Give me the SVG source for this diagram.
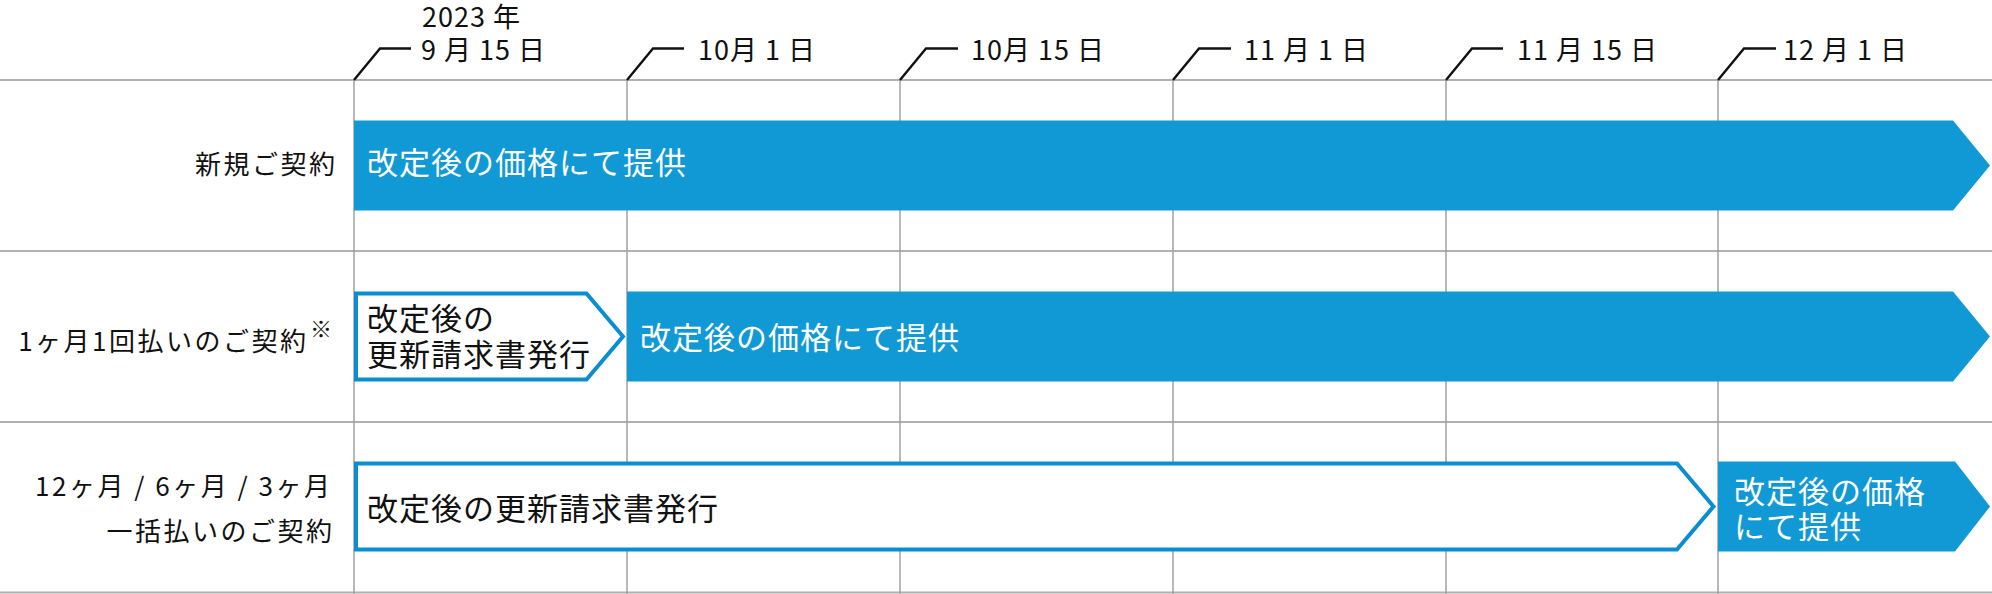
<svg xmlns="http://www.w3.org/2000/svg" width="1992" height="594" viewBox="0 0 1992 594">
<style>
text{font-family:"Noto Sans CJK JP","Noto Sans",sans-serif;}
.hl{stroke:#b0b0b0;stroke-width:2;fill:none}
.vl{stroke:#a0a0a0;stroke-width:1.5;fill:none}
.tick{stroke:#111;stroke-width:2.4;fill:none;stroke-linejoin:miter}
.date{font-size:27px;fill:#111;letter-spacing:1px}
.lbl{font-size:26px;fill:#111;letter-spacing:2.5px;text-anchor:end}
.blue{fill:#1199d6}
.outline{fill:#fff;stroke:#0b8dd2;stroke-width:4;stroke-linejoin:miter}
.wt{font-size:31px;fill:#fff;letter-spacing:1px}
.bt{font-size:31px;fill:#111;letter-spacing:1px}
</style>
<rect width="1992" height="594" fill="#fff"/>
<g id="grid">
<line class="hl" x1="0" y1="80" x2="1992" y2="80"/>
<line class="hl" x1="0" y1="251" x2="1992" y2="251"/>
<line class="hl" x1="0" y1="422" x2="1992" y2="422"/>
<line class="hl" x1="0" y1="592.5" x2="1992" y2="592.5"/>
<line class="vl" x1="354" y1="80" x2="354" y2="594"/>
<line class="vl" x1="627" y1="80" x2="627" y2="594"/>
<line class="vl" x1="900" y1="80" x2="900" y2="594"/>
<line class="vl" x1="1173" y1="80" x2="1173" y2="594"/>
<line class="vl" x1="1446" y1="80" x2="1446" y2="594"/>
<line class="vl" x1="1718" y1="80" x2="1718" y2="594"/>
</g>
<g id="connectors">
<polyline class="tick" points="354,80 380,48.5 411,48.5"/>
<polyline class="tick" points="627,80 653,48.5 684,48.5"/>
<polyline class="tick" points="900,80 926,48.5 958,48.5"/>
<polyline class="tick" points="1173,80 1199,48.5 1231,48.5"/>
<polyline class="tick" points="1446,80 1472,48.5 1503,48.5"/>
<polyline class="tick" points="1718,80 1744,48.5 1776,48.5"/>
</g>
<g id="dates">
<text class="date" x="422" y="27">2023 年</text>
<text class="date" x="421" y="59.5">9 月 15 日</text>
<text class="date" x="698" y="59.5">10月 1 日</text>
<text class="date" x="971" y="59.5">10月 15 日</text>
<text class="date" x="1244" y="59.5">11 月 1 日</text>
<text class="date" x="1517" y="59.5">11 月 15 日</text>
<text class="date" x="1783" y="59.5">12 月 1 日</text>
</g>
<g id="row-labels">
<text class="lbl" x="337.5" y="173.5">新規ご契約</text>
<text class="lbl" x="308.5" y="351">1ヶ月1回払いのご契約</text>
<text x="310" y="337" style="font-size:22px;fill:#111">※</text>
<text class="lbl" x="332.5" y="496">12ヶ月 / 6ヶ月 / 3ヶ月</text>
<text class="lbl" x="334.5" y="541">一括払いのご契約</text>
</g>
<g id="row1-bar">
<polygon class="blue" points="354,120.5 1953,120.5 1990,165.5 1953,210.5 354,210.5"/>
<text class="wt" x="367" y="174">改定後の価格にて提供</text>
</g>
<g id="row2-invoice">
<polygon class="outline" points="356,293.5 586.5,293.5 623,336.5 586.5,379.5 356,379.5"/>
<text class="bt" x="367" y="330">改定後の</text>
<text class="bt" x="367" y="366">更新請求書発行</text>
</g>
<g id="row2-bar">
<polygon class="blue" points="627,291.5 1953,291.5 1990,336.5 1953,381.5 627,381.5"/>
<text class="wt" x="640" y="349">改定後の価格にて提供</text>
</g>
<g id="row3-invoice">
<polygon class="outline" points="356,463.5 1677,463.5 1713.5,506.5 1677,549.5 356,549.5"/>
<text class="bt" x="367" y="520">改定後の更新請求書発行</text>
</g>
<g id="row3-bar">
<polygon class="blue" points="1718,461.5 1955,461.5 1990,506.5 1955,551.5 1718,551.5"/>
<text class="wt" x="1734" y="503">改定後の価格</text>
<text class="wt" x="1734" y="538">にて提供</text>
</g>
</svg>
